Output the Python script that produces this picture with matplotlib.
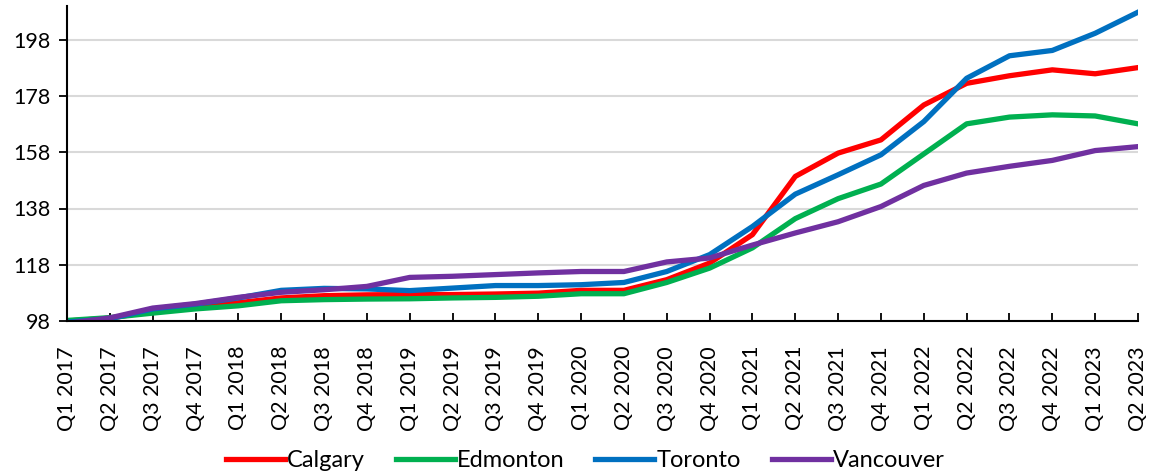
import matplotlib
matplotlib.use('Agg')
import matplotlib.pyplot as plt

plt.rcParams['font.family'] = ['Lato', 'DejaVu Sans']

quarters = ['Q1 2017', 'Q2 2017', 'Q3 2017', 'Q4 2017',
            'Q1 2018', 'Q2 2018', 'Q3 2018', 'Q4 2018',
            'Q1 2019', 'Q2 2019', 'Q3 2019', 'Q4 2019',
            'Q1 2020', 'Q2 2020', 'Q3 2020', 'Q4 2020',
            'Q1 2021', 'Q2 2021', 'Q3 2021', 'Q4 2021',
            'Q1 2022', 'Q2 2022', 'Q3 2022', 'Q4 2022',
            'Q1 2023', 'Q2 2023']

calgary = [98.0, 99.0, 101.5, 103.0, 104.5, 106.2, 107.0, 107.3,
           107.4, 107.4, 107.6, 107.9, 108.9, 108.9, 112.7, 118.6,
           128.7, 149.4, 157.7, 162.4, 174.8, 182.5, 185.2, 187.3,
           185.9, 188.1]
edmonton = [98.2, 99.2, 100.8, 102.3, 103.4, 105.2, 105.6, 105.8,
            105.9, 106.2, 106.4, 106.8, 107.7, 107.7, 111.7, 116.8,
            124.0, 134.4, 141.5, 146.7, 157.4, 168.1, 170.5, 171.3,
            170.9, 168.1]
toronto = [97.6, 98.8, 102.3, 104.0, 106.2, 108.9, 109.6, 109.4,
           108.8, 109.7, 110.6, 110.6, 110.9, 111.7, 115.6, 121.6,
           131.6, 143.1, 150.0, 157.1, 168.9, 184.3, 192.3, 194.2,
           200.3, 207.8]
vancouver = [97.2, 99.1, 102.6, 104.2, 106.4, 108.2, 109.1, 110.3,
             113.5, 113.9, 114.5, 115.1, 115.6, 115.6, 119.0, 120.4,
             125.0, 129.3, 133.3, 138.7, 146.2, 150.6, 153.0, 155.1,
             158.6, 160.0]

yticks = [98, 118, 138, 158, 178, 198]

fig = plt.figure(figsize=(11.51, 4.76), dpi=100)
ax = fig.add_axes([67 / 1151, 1 - 321 / 476, (1138 - 67) / 1151, (321 - 6) / 476])

x = list(range(len(quarters)))
lw = 3.8
ax.plot(x, calgary, color='#FF0000', lw=lw, label='Calgary', solid_joinstyle='round')
ax.plot(x, edmonton, color='#00B050', lw=lw, label='Edmonton', solid_joinstyle='round')
ax.plot(x, toronto, color='#0070C0', lw=lw, label='Toronto', solid_joinstyle='round')
ax.plot(x, vancouver, color='#7030A0', lw=lw, label='Vancouver', solid_joinstyle='round')

ax.set_xlim(0, len(quarters) - 1)
ax.set_ylim(98, 210)
ax.set_yticks(yticks)
ax.set_xticks(x)
ax.set_xticklabels(quarters, rotation=90)
ax.grid(axis='y', color='#D9D9D9', lw=1.5)
ax.set_axisbelow(True)

for s in ['top', 'right']:
    ax.spines[s].set_visible(False)
for s in ['left', 'bottom']:
    ax.spines[s].set_linewidth(1.5)
    ax.spines[s].set_color('black')

ax.tick_params(axis='x', direction='in', length=6, width=1.3, labelsize=15.5, pad=18)
ax.tick_params(axis='y', direction='out', length=6, width=1.3, labelsize=15.5, pad=6)

ax.legend(loc='lower center', bbox_to_anchor=(0.484, -0.545), ncol=4, frameon=False,
          fontsize=17, handlelength=2.5, handletextpad=0.1, columnspacing=1.3)

plt.savefig('out.png', dpi=100)
